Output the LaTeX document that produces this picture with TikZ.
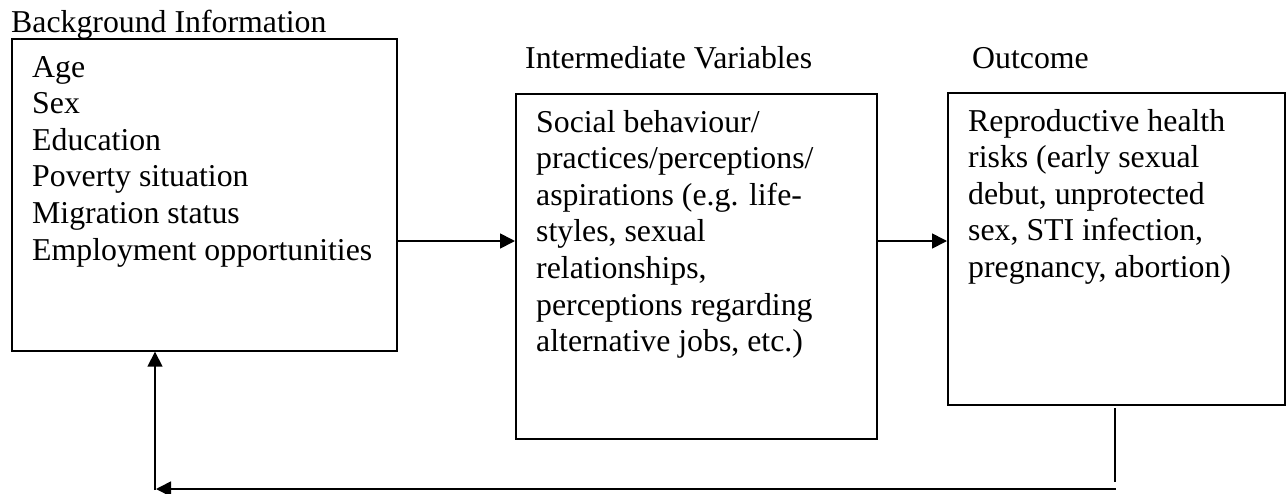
\documentclass[tikz,border=0pt]{standalone}
\usepackage{fontspec}
\setmainfont{Liberation Serif}
\usetikzlibrary{arrows.meta}
\begin{document}
\begin{tikzpicture}[x=1pt,y=-1pt,
  box/.style={draw=black, line width=1.7pt, rectangle, inner sep=0pt, anchor=north west},
  txt/.style={inner sep=0pt, anchor=base west, font=\fontsize{31.8}{36.6}\selectfont},
  conn/.style={line width=1.7pt, -{Triangle[length=15pt,width=15pt]}},
  plain/.style={line width=1.7pt}]
\useasboundingbox (0,0) rectangle (1288,493);
% boxes
\node[box, minimum width=385pt, minimum height=312pt] (bg) at (11,38) {};
\node[box, minimum width=361pt, minimum height=345pt] (iv) at (515,93) {};
\node[box, minimum width=337pt, minimum height=312pt] (oc) at (947,92) {};
% titles
\node[txt] (bgtitle) at (11,32) {Background Information};
\node[txt] (ivtitle) at (525,68) {Intermediate Variables};
\node[txt] (octitle) at (972,68) {Outcome};
% contents
\node[txt] (bgtext) at (32,77) {\begin{tabular}[t]{@{}l@{}}Age\\Sex\\Education\\Poverty situation\\Migration status\\Employment opportunities\end{tabular}};
\node[txt] (ivtext) at (536,132) {\begin{tabular}[t]{@{}l@{}}Social behaviour/\\practices/perceptions/\\aspirations (e.g. life-\\styles, sexual\\relationships,\\perceptions regarding\\alternative jobs, etc.)\end{tabular}};
\node[txt] (octext) at (968,131) {\begin{tabular}[t]{@{}l@{}}Reproductive health\\risks (early sexual\\debut, unprotected\\sex, STI infection,\\pregnancy, abortion)\end{tabular}};
% connectors
\coordinate (ay) at (0,241);
\draw[conn] (bg.east |- ay) -- (iv.west |- ay);
\draw[conn] (iv.east |- ay) -- (oc.west |- ay);
% feedback
\coordinate (f1) at (1115,408);
\coordinate (f2) at (1115,482);
\coordinate (f3) at (1116,489);
\coordinate (f4) at (156,489);
\coordinate (f5) at (155,490);
\draw[plain] (f1) -- (f2);
\draw[conn] (f3) -- (f4);
\draw[conn] (f5) -- (bg.south -| f5);
\end{tikzpicture}
\end{document}
